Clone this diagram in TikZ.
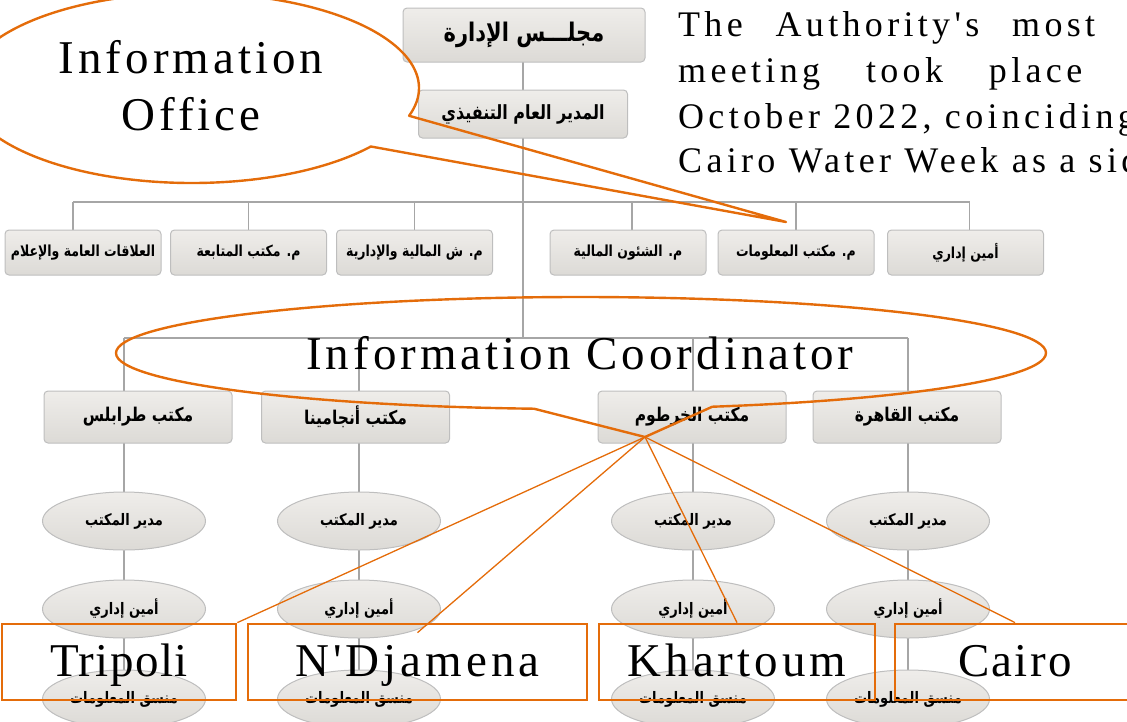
\documentclass[tikz,border=0pt]{standalone}
\usepackage{graphicx}
\usepackage{fontspec}
\setmainfont{Liberation Serif}
\newfontfamily\arabicfont[Script=Arabic]{DejaVu Sans}
\newfontfamily\spacedserif[LetterSpace=8.5]{Liberation Serif}
\newfontfamily\tightserif[LetterSpace=3]{Liberation Serif}
\newfontfamily\midserif[LetterSpace=5]{Liberation Serif}
\newfontfamily\paraserif[LetterSpace=12]{Liberation Serif}
\TeXXeTstate=1
\usetikzlibrary{calc,shapes.geometric}
\pgfdeclarelayer{background}
\pgfsetlayers{background,main}
\definecolor{org}{HTML}{E46C0A}
\definecolor{conn}{HTML}{A6A6A6}
\definecolor{boxtop}{HTML}{EFEDEA}
\definecolor{boxbot}{HTML}{DCDAD6}
\definecolor{boxline}{HTML}{BEBEBE}
\newcommand{\AR}[1]{\scalebox{1}[1.22]{\arabicfont\bfseries\beginR #1\endR}}
\begin{document}
\begin{tikzpicture}[x=1pt,y=-1pt,
  orgbox/.style={draw=boxline, line width=1pt, rounded corners=4pt, top color=boxtop, bottom color=boxbot, inner sep=0pt},
  boardbox/.style={orgbox, minimum width=242, minimum height=54, font=\fontsize{21}{23}\selectfont},
  execbox/.style={orgbox, minimum width=209, minimum height=48, font=\fontsize{16}{18}\selectfont},
  unitbox/.style={orgbox, minimum width=156, minimum height=45, font=\fontsize{12.5}{14}\selectfont},
  officebox/.style={orgbox, minimum width=188, minimum height=52, font=\fontsize{15.5}{17}\selectfont},
  staff/.style={ellipse, draw=boxline, line width=1pt, top color=boxtop, bottom color=boxbot, minimum width=163, minimum height=58, inner sep=0pt, font=\fontsize{13}{15}\selectfont},
  connline/.style={draw=conn, line width=1.8pt},
  callout/.style={draw=org, line width=2.4pt, line join=round},
  pointer/.style={draw=org, line width=1.3pt},
  cityrect/.style={draw=org, line width=2.8pt, inner sep=0pt, minimum height=76, text height=36pt, text depth=8pt, font=\spacedserif\fontsize{47}{57}\selectfont},
  bigtext/.style={inner sep=0pt, align=center, font=\spacedserif\fontsize{47}{57}\selectfont},
  paratext/.style={inner sep=0pt, anchor=base west, font=\paraserif\fontsize{36}{45}\selectfont}
]
\useasboundingbox (0,0) rectangle (1127,721);
\clip (0,0) rectangle (1127,721);

% ---- org chart top ----
\node[boardbox] (board) at (524,35) {\AR{مجلـــس الإدارة}};
\node[execbox] (exec) at (523,114) {\AR{المدير العام التنفيذي}};

\coordinate (bus1) at (523,202);
\coordinate (bus2) at (523,338);

\node[unitbox] (r1) at (83,252.5) {\AR{العلاقات العامة والإعلام}};
\node[unitbox] (r2) at (248.5,252.5) {\AR{م. مكتب المتابعة}};
\node[unitbox] (r3) at (414.5,252.5) {\AR{م. ش المالية والإدارية}};
\node[unitbox] (r4) at (628,252.5) {\AR{م. الشئون المالية}};
\node[unitbox] (r5) at (796,252.5) {\AR{م. مكتب المعلومات}};
\node[unitbox] (r6) at (965.5,252.5) {\AR{أمين إداري}};

% drop points of the first bus
\coordinate (d1) at ($(r1.north)+(-10,0)$);
\coordinate (d2) at (r2.north);
\coordinate (d3) at (r3.north);
\coordinate (d4) at ($(r4.north)+(4,0)$);
\coordinate (d5) at (r5.north);
\coordinate (d6) at ($(r6.north)+(4,0)$);

% ---- offices ----
\node[officebox] (o1) at (138,417) {\AR{مكتب طرابلس}};
\node[officebox] (o2) at (355.5,417) {\AR{مكتب أنجامينا}};
\node[officebox] (o3) at (692,417) {\AR{مكتب الخرطوم}};
\node[officebox] (o4) at (907,417) {\AR{مكتب القاهرة}};

\foreach \c/\x in {1/124,2/359,3/693,4/908}{
  \node[staff] (m\c) at (\x,521) {\AR{مدير المكتب}};
  \node[staff] (a\c) at (\x,609) {\AR{أمين إداري}};
  \node[staff] (s\c) at (\x,699) {\AR{منسق المعلومات}};
}

\begin{pgfonlayer}{background}
  \draw[connline] (board.center -| exec.center) -- (exec.center |- bus2);
  \draw[connline] (d1 |- bus1) -- (d6 |- bus1);
  \foreach \n in {d1,d2,d3,d4,d5,d6}{\draw[connline] (\n) -- (\n |- bus1);}
  \draw[connline] (s1.center |- bus2) -- (s4.center |- bus2);
  \foreach \c in {1,2,3,4}{\draw[connline] (s\c.center |- bus2) -- (s\c.center);}
\end{pgfonlayer}

% ---- top right paragraph ----
\node[paratext] (p1) at (678,36) {\makebox[417pt][l]{The\hfill Authority's\hfill most}};
\node[paratext] (p2) at (678,82) {\makebox[404pt][l]{meeting\hfill took\hfill place}};
\node[paratext] (p3) at (678,128) {October 2022, coinciding};
\node[paratext] (p4) at (678,172) {Cairo Water Week as a side};

% ---- callout: Information Office ----
\coordinate (ioc) at (192,88);
\coordinate (iotip) at (786,222);
\draw[callout] (iotip) -- ($(ioc)+({227*cos(38)},{95*sin(38)})$)
   arc[start angle=38, end angle=377, x radius=227, y radius=95] -- cycle;
\node[bigtext] (iotext) at (191,86) {Information\\Office};

% ---- callout: Information Coordinator ----
\coordinate (icc) at (581,353);
\coordinate (ictip) at (645,437);
\draw[callout] (ictip) -- ($(icc)+({465*cos(95.8)},{56*sin(95.8)})$)
   arc[start angle=95.8, end angle=433.6, x radius=465, y radius=56] -- cycle;
\node[bigtext] (ictext) at (580,353) {Information Coordinator};

% ---- city rectangles ----
\node[cityrect, minimum width=234] (tri) at (119,662) {\tightserif Tripoli};
\node[cityrect, minimum width=339] (ndj) at (417.5,662) {N'Djamena};
\node[cityrect, minimum width=276] (kha) at (737,662) {Khartoum};
\node[cityrect, minimum width=240] (cai) at (1015,662) {\midserif Cairo};

\draw[pointer] (ictip) -- (tri.north east);
\draw[pointer] (ictip) -- ($(ndj.north)+(0,10)$);
\draw[pointer] (ictip) -- (kha.north);
\draw[pointer] (ictip) -- (cai.north);
\end{tikzpicture}
\end{document}
